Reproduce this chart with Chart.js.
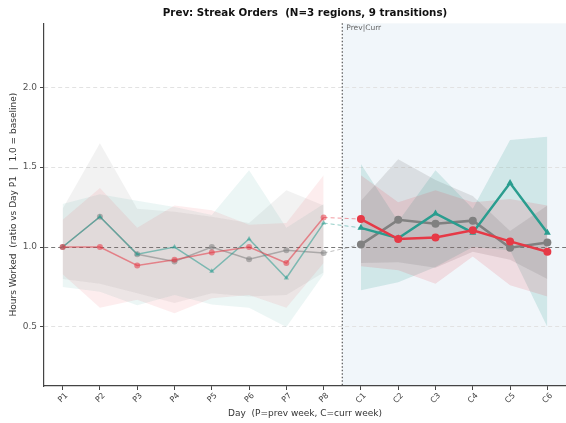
<!DOCTYPE html>
<html>
<head>
<meta charset="utf-8">
<script src="https://cdn.jsdelivr.net/npm/chart.js@4.4.1/dist/chart.umd.min.js"></script>
<style>
  html, body { margin: 0; padding: 0; background: #fff; }
  #wrap { width: 566px; height: 423px; }
</style>
</head>
<body>
<div id="wrap"><canvas id="chart" width="566" height="423"></canvas></div>
<script>
// day labels
const prevDays = ["P1", "P2", "P3", "P4", "P5", "P6", "P7", "P8"];
const currDays = ["C1", "C2", "C3", "C4", "C5", "C6"];
const yTicks = [0.5, 1.0, 1.5, 2.0];
const baseline = 1.0;

// mean ratio per region group
const redPrev = [1.0, 1.0, 0.885, 0.92, 0.965, 1.0, 0.90, 1.185];
const redCurr = [1.175, 1.05, 1.06, 1.105, 1.035, 0.97];
const tealPrev = [1.0, 1.19, 0.955, 1.0, 0.848, 1.05, 0.806, 1.15];
const tealCurr = [1.12, 1.055, 1.21, 1.09, 1.40, 1.09];
const grayPrev = [1.0, 1.19, 0.955, 0.91, 1.0, 0.923, 0.98, 0.962];
const grayCurr = [1.015, 1.17, 1.146, 1.165, 0.996, 1.028];

// spread bands (upper / lower)
const redPrevHi = [1.17, 1.37, 1.12, 1.26, 1.23, 1.14, 1.15, 1.45];
const redPrevLo = [0.83, 0.62, 0.67, 0.585, 0.68, 0.70, 0.62, 0.90];
const redCurrHi = [1.45, 1.28, 1.355, 1.28, 1.30, 1.26];
const redCurrLo = [0.88, 0.855, 0.77, 0.94, 0.76, 0.69];
const tealPrevHi = [1.27, 1.33, 1.29, 1.25, 1.20, 1.48, 1.12, 1.27];
const tealPrevLo = [0.75, 0.72, 0.635, 0.70, 0.64, 0.62, 0.50, 0.83];
const tealCurrHi = [1.52, 1.16, 1.48, 1.24, 1.67, 1.69];
const tealCurrLo = [0.73, 0.78, 0.875, 1.0, 0.98, 0.50];
const grayPrevHi = [1.24, 1.65, 1.24, 1.22, 1.19, 1.15, 1.355, 1.26];
const grayPrevLo = [0.80, 0.77, 0.71, 0.65, 0.71, 0.69, 0.70, 0.84];
const grayCurrHi = [1.29, 1.55, 1.42, 1.32, 1.10, 1.26];
const grayCurrLo = [0.90, 0.905, 0.87, 0.97, 0.92, 0.80];

const dayLabels = prevDays.concat(currDays);
const splitAt = prevDays.length - 0.5;

Chart.defaults.font.family = "'DejaVu Sans', sans-serif";

function rgba(c, a) {
  return "rgba(" + c[0] + "," + c[1] + "," + c[2] + "," + a + ")";
}

function pts(values, offset) {
  return values.map((v, i) => ({ x: i + offset, y: v }));
}

const groups = [
  { rgb: [230, 57, 70], marker: "circle", prev: redPrev, curr: redCurr,
    prevHi: redPrevHi, prevLo: redPrevLo, currHi: redCurrHi, currLo: redCurrLo, bandA: [0.09, 0.14] },
  { rgb: [42, 157, 143], marker: "triangle", prev: tealPrev, curr: tealCurr,
    prevHi: tealPrevHi, prevLo: tealPrevLo, currHi: tealCurrHi, currLo: tealCurrLo, bandA: [0.09, 0.17] },
  { rgb: [128, 128, 128], marker: "circle", prev: grayPrev, curr: grayCurr,
    prevHi: grayPrevHi, prevLo: grayPrevLo, currHi: grayCurrHi, currLo: grayCurrLo, bandA: [0.10, 0.20] },
];

const datasets = [];
const off = prevDays.length;

// bands first in the list, drawn underneath via order
groups.forEach((g) => {
  [[g.prevLo, g.prevHi, 0, g.bandA[0]], [g.currLo, g.currHi, off, g.bandA[1]]].forEach((b) => {
    datasets.push({
      data: pts(b[0], b[2]),
      borderColor: "transparent",
      pointRadius: 0,
      fill: false,
      order: 10,
    });
    datasets.push({
      data: pts(b[1], b[2]),
      borderColor: "transparent",
      backgroundColor: rgba(g.rgb, b[3]),
      pointRadius: 0,
      fill: "-1",
      order: 10,
    });
  });
});

groups.forEach((g) => {
  // faded previous week
  datasets.push({
    data: pts(g.prev, 0),
    borderColor: rgba(g.rgb, 0.55),
    backgroundColor: rgba(g.rgb, 0.55),
    borderWidth: 1.5,
    pointStyle: g.marker,
    pointRadius: 3,
    pointBorderWidth: 0,
    fill: false,
    order: 2,
  });
  // dashed link P8 -> C1
  datasets.push({
    data: [
      { x: off - 1, y: g.prev[g.prev.length - 1] },
      { x: off, y: g.curr[0] },
    ],
    borderColor: rgba(g.rgb, 0.5),
    borderWidth: 1,
    borderDash: [4, 3],
    pointRadius: 0,
    fill: false,
    order: 2,
  });
  // current week
  datasets.push({
    data: pts(g.curr, off),
    borderColor: rgba(g.rgb, 1),
    backgroundColor: rgba(g.rgb, 1),
    borderWidth: 2.5,
    pointStyle: g.marker,
    pointRadius: 4,
    pointBorderWidth: 0,
    fill: false,
    order: 1,
  });
});

// shaded current week + separator
const splitPlugin = {
  id: "split",
  beforeDraw(chart) {
    const { ctx, chartArea, scales } = chart;
    const sx = scales.x.getPixelForValue(splitAt);
    ctx.save();
    ctx.fillStyle = "rgba(225, 235, 245, 0.45)";
    ctx.fillRect(sx, chartArea.top, chartArea.right - sx, chartArea.bottom - chartArea.top);
    ctx.restore();
  },
  afterDatasetsDraw(chart) {
    const { ctx, chartArea, scales } = chart;
    const sx = scales.x.getPixelForValue(splitAt);
    ctx.save();
    ctx.strokeStyle = "#555";
    ctx.lineWidth = 1.2;
    ctx.setLineDash([1.5, 2]);
    ctx.beginPath();
    ctx.moveTo(sx, chartArea.top);
    ctx.lineTo(sx, chartArea.bottom);
    ctx.stroke();
    ctx.setLineDash([]);
    ctx.fillStyle = "#666";
    ctx.font = "7.5px 'DejaVu Sans', sans-serif";
    ctx.textBaseline = "top";
    ctx.fillText("Prev|Curr", sx + 4, chartArea.top + 1);
    ctx.restore();
  },
};

new Chart(document.getElementById("chart"), {
  type: "line",
  data: { datasets: datasets },
  plugins: [splitPlugin],
  options: {
    responsive: false,
    animation: false,
    layout: { padding: 0, autoPadding: false },
    plugins: {
      legend: { display: false },
      tooltip: { enabled: false },
      title: {
        display: true,
        fullSize: false,
        text: "Prev: Streak Orders  (N=3 regions, 9 transitions)",
        color: "#111",
        font: { size: 10.3, weight: "bold" },
        padding: { top: 7, bottom: 4 },
      },
    },
    scales: {
      x: {
        type: "linear",
        min: -0.5,
        max: dayLabels.length - 0.5,
        afterBuildTicks: (scale) => {
          scale.ticks = dayLabels.map((_, i) => ({ value: i }));
        },
        afterFit: (scale) => {
          scale.height = 37;
          scale.paddingLeft = 0;
          scale.paddingRight = 0;
        },
        grid: { drawOnChartArea: false, tickLength: 4, tickColor: "#444" },
        border: { color: "#444", width: 1.2 },
        ticks: {
          callback: (v) => dayLabels[v],
          minRotation: 45,
          maxRotation: 45,
          autoSkip: false,
          labelOffset: 4,
          padding: 1,
          color: "#444",
          font: { size: 8 },
        },
        title: {
          display: true,
          text: "Day  (P=prev week, C=curr week)",
          color: "#333",
          font: { size: 9 },
          padding: { top: 0, bottom: 4 },
        },
      },
      y: {
        min: 0.13,
        max: 2.4,
        afterBuildTicks: (scale) => {
          scale.ticks = yTicks.map((v) => ({ value: v }));
        },
        afterFit: (scale) => {
          scale.width = 44;
          scale.paddingTop = 0;
          scale.paddingBottom = 0;
        },
        grid: {
          color: (c) => (c.tick && c.tick.value === baseline ? "#777" : "#e2e2e2"),
          lineWidth: 1,
          tickLength: 4,
          tickColor: "#444",
        },
        border: { color: "#444", width: 1.2, dash: [4, 3] },
        ticks: {
          callback: (v) => v.toFixed(1),
          color: "#555",
          padding: 3,
          font: { size: 9 },
        },
        title: {
          display: true,
          text: "Hours Worked  (ratio vs Day P1  |  1.0 = baseline)",
          color: "#333",
          font: { size: 9 },
          padding: { top: 8, bottom: 0 },
        },
      },
    },
  },
});
</script>
</body>
</html>
